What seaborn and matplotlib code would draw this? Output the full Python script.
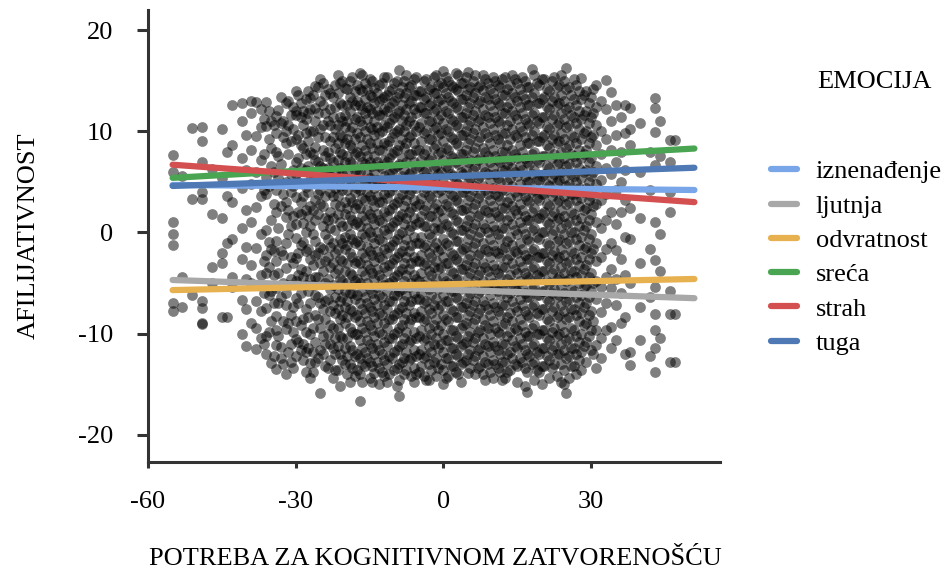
import matplotlib
matplotlib.use("Agg")
import matplotlib.pyplot as plt
import seaborn as sns
import pandas as pd
from matplotlib.lines import Line2D

# ---------------- data ----------------
emotions = ["iznenađenje", "ljutnja", "odvratnost", "sreća", "strah", "tuga"]
colors = ["#78a6e8", "#a8a8a8", "#e8b14f", "#4aa552", "#d45050", "#4e79b4"]
line_x = [-55, 51]
line_start = [4.7, -4.7, -5.7, 5.4, 6.7, 4.6]
line_end = [4.2, -6.5, -4.6, 8.3, 3.0, 6.4]

# scatter: x position of each column of points, and y values of that column
scatter_cols_x = [
    -55, -53, -51, -49, -47, -45, -44, -43, -41, -40, -39, -38, -37, -36, -35, -34,
    -33, -32, -31, -30, -29, -28, -27, -26, -25, -24, -23, -22, -21, -20, -19, -18,
    -17, -16, -15, -14, -13, -12, -11, -10, -9, -8, -7, -6, -5, -4, -3, -2, -1, 0,
    1, 2, 3, 4, 5, 6, 7, 8, 9, 10, 11, 12, 13, 14, 15, 16, 17, 18, 19, 20, 21, 22,
    23, 24, 25, 26, 27, 28, 29, 30, 31, 32, 33, 34, 35, 36, 37, 38, 40, 42, 43, 44,
    46, 47,
]
scatter_cols_y = [
    "7.7 6.0 1.0 -0.2 -1.2 -7.0 -7.8",
    "5.6 -4.4 -7.4",
    "10.3 3.3 -6.2",
    "10.4 9.0 7.0 4.0 3.3 -6.8 -7.5 -9.1 -9.0",
    "6.3 1.8 -3.4 -5.0",
    "10.2 5.4 1.4 -2.0 -3.0 -8.4",
    "8.0 3.6 -1.0 -8.4",
    "12.6 8.6 3.0 -0.6 -5.4 -4.4",
    "12.8 11.0 7.4 4.4 0.4 -2.6 -6.7 -10.0",
    "9.6 6.2 2.2 -1.4 -4.6 -7.6 -11.2",
    "13.0 11.8 8.2 4.8 1.0 -3.2 -5.0 -9.0",
    "12.9 9.5 6.0 2.5 -1.5 -6.8 -9.4 -11.5",
    "12.2 10.4 7.2 3.6 -0.2 -4.2 -7.8 -10.4",
    "12.9 10.5 5.5 3.8 0.2 -2.2 -4.0 -7.5 -10.2 -12.0",
    "11.0 8.4 6.6 1.2 -1.6 -5.8 -8.8 -12.9",
    "11.5 9.8 8.0 4.2 2.0 -0.8 -2.8 -5.5 -8.3 -9.6 -11.1 -13.5",
    "13.4 10.8 6.8 2.6 -1.8 -6.4 -11.3 -12.4",
    "12.8 10.0 8.8 5.0 3.0 1.5 -1.0 -3.5 -6.0 -7.2 -9.5 -14.0",
    "11.6 9.0 5.8 4.0 0.6 -2.4 -4.6 -8.2 -11.0 -12.8",
    "14.0 12.0 11.6 9.2 7.0 5.8 3.5 0.8 -0.5 -2.5 -4.8 -6.5 -8.8 -10.5 -12.2",
    "12.8 11.4 8.6 6.4 3.0 1.8 -1.2 -3.6 -6.0 -9.2 -11.6",
    "13.2 11.2 9.8 7.8 6.2 4.5 2.2 0.0 -1.8 -3.8 -5.2 -7.6 -9.8 -11.8 -13.8",
    "13.3 12.2 10.0 8.0 5.2 2.6 0.6 -2.6 -4.6 -7.0 -10.0 -12.9 -14.4",
    "14.5 12.3 11.0 8.5 7.2 5.0 3.2 1.2 -0.8 -2.2 -4.4 -6.2 -8.2 -10.8 -12.8",
    "15.2 13.0 10.2 6.6 4.2 2.8 -1.4 -3.0 -7.0 -9.4 -11.6 -15.9",
    "13.6 11.8 9.4 7.6 5.8 3.6 1.4 -0.2 -2.8 -5.0 -6.8 -8.6 -11.0 -13.2",
    "13.8 12.2 10.6 9.0 7.4 5.6 4.0 2.0 0.4 -1.4 -3.4 -5.6 -7.8 -9.2 -11.0 -12.6",
    "14.6 12.4 10.2 8.4 6.0 4.4 2.8 0.2 -2.0 -4.0 -6.4 -8.0 -10.4 -12.0 -13.6",
    "14.8 12.8 11.4 9.6 8.0 6.4 4.6 2.6 1.0 -0.6 -2.6 -4.6 -6.8 -8.6 -10.2 -12.0 -15.2",
    "14.3 11.6 10.4 8.8 7.0 5.0 3.0 1.8 -0.4 -1.6 -3.8 -5.8 -7.4 -9.0 -11.4 -13.0",
    "15.0 13.4 12.0 10.0 8.6 7.0 5.2 3.4 1.6 -0.2 -2.0 -4.0 -6.0 -7.6 -9.4 -11.2 -13.0 -14.8",
    "14.0 12.6 11.2 9.2 7.8 6.2 4.0 2.4 0.8 -1.0 -3.0 -4.8 -6.6 -8.4 -10.0 -12.2 -14.2",
    "15.8 14.2 12.6 11.0 9.4 7.6 6.0 4.2 2.4 0.6 -1.2 -3.0 -5.0 -7.0 -8.8 -10.6 -12.4 -14.0 -16.7",
    "14.8 13.2 11.8 10.0 8.2 6.8 5.0 3.2 1.2 -0.4 -2.4 -4.2 -6.4 -8.0 -9.8 -11.8 -13.2",
    "15.2 13.6 12.2 10.4 8.8 7.0 5.4 3.6 1.8 0.0 -1.8 -3.6 -5.6 -7.4 -9.2 -11.0 -12.8 -14.4",
    "14.3 12.8 11.0 9.6 7.6 6.0 4.4 2.6 0.8 -1.0 -2.8 -4.6 -6.6 -8.4 -10.2 -12.0 -13.9",
    "14.6 13.0 11.6 9.8 8.2 6.6 4.8 3.0 1.2 -0.6 -2.4 -4.2 -6.2 -8.0 -9.8 -11.6 -13.4 -15.0",
    "15.4 13.4 12.2 10.6 8.8 7.2 5.6 3.8 2.0 0.2 -1.6 -3.4 -5.2 -7.2 -9.0 -10.8 -12.6 -14.2",
    "14.0 12.4 10.8 9.0 7.4 5.8 4.0 2.2 0.4 -1.4 -3.2 -5.0 -6.8 -8.6 -10.4 -12.2 -14.0",
    "14.8 13.0 11.4 9.8 8.0 6.4 4.6 2.8 1.0 -0.8 -2.6 -4.4 -6.2 -8.2 -10.0 -11.8 -13.6",
    "16.1 13.8 12.0 10.2 8.6 6.8 5.0 3.4 1.6 -0.2 -2.0 -3.8 -5.8 -7.6 -9.4 -11.2 -13.0 -14.6 -16.2",
    "15.0 13.4 11.6 10.0 8.4 6.2 4.4 2.6 0.8 -1.2 -3.0 -4.8 -6.8 -8.6 -10.4 -12.4 -14.0",
    "14.4 12.8 11.0 9.4 7.8 5.8 3.8 2.0 0.2 -1.8 -3.6 -5.4 -7.2 -9.0 -10.8 -12.6",
    "15.2 13.6 12.2 10.6 8.8 7.0 5.2 3.2 1.4 -0.4 -2.4 -4.2 -6.0 -8.0 -9.8 -11.6 -13.4 -14.8",
    "14.0 12.4 10.4 8.2 6.6 4.8 2.8 1.0 -1.0 -2.8 -4.8 -6.6 -8.4 -10.2 -12.0 -13.8",
    "15.0 13.2 11.8 9.8 7.8 6.0 4.0 2.2 0.6 -1.4 -3.2 -5.2 -7.0 -8.8 -10.6 -12.4 -14.2",
    "14.2 12.6 11.0 9.2 7.2 5.4 3.6 1.6 -0.2 -2.0 -3.8 -5.6 -7.6 -9.4 -11.2 -13.0 -14.6",
    "15.4 13.8 12.0 10.2 8.4 6.4 4.4 2.4 0.4 -1.4 -3.4 -5.2 -7.2 -9.2 -11.0 -12.8",
    "14.6 13.0 11.2 9.6 7.8 5.8 4.0 2.0 0.2 -1.8 -3.6 -5.6 -7.6 -9.6 -11.4 -13.4",
    "16.0 14.4 12.6 10.8 9.0 7.2 5.4 3.4 1.4 -0.6 -2.4 -4.4 -6.2 -8.2 -10.0 -11.8 -13.6 -15.0",
    "15.0 13.4 11.8 10.0 8.2 6.4 4.4 2.6 0.6 -1.2 -3.0 -5.0 -6.8 -8.8 -10.6 -12.4 -14.2",
    "14.4 12.8 11.0 9.2 7.4 5.6 3.6 1.8 -0.2 -2.2 -4.0 -5.8 -7.8 -9.6 -11.4 -13.2",
    "15.6 14.0 12.2 10.4 8.6 6.8 4.8 3.0 1.0 -0.8 -2.8 -4.6 -6.6 -8.4 -10.4 -12.2 -14.0",
    "14.8 13.2 11.4 9.6 7.8 5.8 4.0 2.2 0.2 -1.6 -3.6 -5.4 -7.4 -9.2 -11.0 -12.8",
    "15.9 14.2 12.4 10.6 8.8 7.0 5.0 3.2 1.2 -0.6 -2.6 -4.4 -6.4 -8.2 -10.2 -12.0 -13.9",
    "15.0 13.4 11.6 9.8 8.0 6.2 4.2 2.4 0.4 -1.4 -3.4 -5.2 -7.2 -9.0 -10.8 -12.6",
    "14.4 12.8 11.0 9.0 7.2 5.4 3.4 1.6 -0.4 -2.2 -4.2 -6.0 -8.0 -9.8 -11.6 -13.4",
    "15.6 14.1 12.2 10.4 8.4 6.6 4.6 2.8 0.8 -1.0 -3.0 -4.8 -6.8 -8.6 -10.4 -12.2 -14.0",
    "14.8 13.2 11.4 9.4 7.6 5.8 3.8 2.0 0.0 -1.8 -3.8 -5.6 -7.6 -9.4 -11.2 -13.0",
    "15.4 13.8 12.0 10.2 8.2 6.4 4.4 2.6 0.6 -1.2 -3.2 -5.0 -7.0 -8.8 -10.8 -12.6 -14.4",
    "14.6 12.8 11.0 9.2 7.2 5.4 3.6 1.6 -0.2 -2.0 -4.0 -5.8 -7.8 -9.8 -11.6 -13.4",
    "15.2 13.6 11.8 9.8 8.0 6.2 4.2 2.4 0.4 -1.6 -3.4 -5.4 -7.2 -9.2 -11.0 -12.8 -14.6",
    "14.2 12.4 10.6 8.6 6.8 5.0 3.0 1.2 -0.8 -2.6 -4.6 -6.4 -8.4 -10.2 -12.0 -13.8",
    "15.6 13.8 12.0 10.2 8.2 6.4 4.6 2.6 0.8 -1.2 -3.0 -5.0 -6.8 -8.8 -10.6 -12.4",
    "14.8 13.0 11.2 9.4 7.4 5.6 3.6 1.8 -0.2 -2.0 -4.0 -5.8 -7.8 -9.6 -11.4 -13.2 -14.8",
    "15.4 13.6 11.8 10.0 8.0 6.2 4.2 2.2 0.4 -1.6 -3.4 -5.4 -7.2 -9.2 -11.0 -12.8",
    "14.4 12.6 10.8 8.8 7.0 5.0 3.2 1.2 -0.6 -2.6 -4.4 -6.4 -8.2 -10.2 -12.0 -13.8 -15.8",
    "16.2 13.4 11.6 9.6 7.8 5.8 4.0 2.0 0.2 -1.8 -3.6 -5.6 -7.4 -9.4 -11.2 -13.0",
    "14.8 12.8 11.0 9.0 7.2 5.2 3.4 1.4 -0.4 -2.4 -4.2 -6.2 -8.0 -10.0 -11.8 -13.6",
    "15.2 13.2 11.4 9.4 7.6 5.6 3.8 1.8 0.0 -2.0 -3.8 -5.8 -7.6 -9.6 -11.4 -13.2 -15.0",
    "14.2 12.4 10.4 8.6 6.6 4.8 2.8 1.0 -1.0 -2.8 -4.8 -6.6 -8.6 -10.4 -12.2",
    "15.0 13.0 11.2 9.2 7.4 5.4 3.6 1.6 -0.2 -2.2 -4.0 -6.0 -7.8 -9.8 -11.6 -13.4",
    "14.4 12.6 10.6 8.8 6.8 5.0 3.0 1.2 -0.8 -2.6 -4.6 -6.4 -8.4 -10.2 -12.0 -14.2",
    "15.6 13.6 11.8 9.8 8.0 6.0 4.2 2.2 0.4 -1.6 -3.4 -5.4 -7.2 -9.2 -11.0 -13.0 -14.8",
    "16.3 14.2 12.2 10.4 8.4 6.6 4.6 2.8 0.8 -1.0 -3.0 -4.8 -6.8 -8.6 -10.6 -12.4 -15.9",
    "13.6 11.6 9.6 7.8 5.8 3.8 2.0 0.0 -1.8 -3.8 -5.6 -7.6 -9.4 -11.4 -13.2",
    "14.6 12.6 10.8 8.8 7.0 5.0 3.2 1.2 -0.6 -2.6 -4.4 -6.4 -8.2 -10.2 -12.0 -14.0",
    "15.3 13.2 11.2 9.2 7.4 5.4 3.4 1.4 -0.4 -2.4 -4.2 -6.2 -8.0 -10.0 -11.8 -13.6",
    "14.0 12.0 10.0 8.2 6.2 4.4 2.4 0.6 -1.4 -3.2 -5.2 -7.0 -9.0 -10.8 -12.8",
    "13.4 11.4 9.4 7.4 5.6 3.6 1.8 -0.2 -2.0 -4.0 -5.8 -7.8 -9.6 -11.6",
    "14.6 12.4 10.6 8.6 6.6 4.8 2.8 1.0 -1.0 -2.8 -4.8 -6.6 -9.6 -11.1 -13.4",
    "13.0 10.0 7.8 5.2 3.2 0.4 -2.4 -5.4 -7.9 -10.4 -12.4",
    "15.1 12.2 9.2 6.4 3.8 1.2 -1.6 -4.4 -7.0 -9.6",
    "13.9 11.0 8.2 5.8 2.0 -1.0 -3.6 -5.5 -9.3 -11.4",
    "12.6 9.6 7.0 4.2 0.8 -1.7 -4.6 -7.2 -10.6",
    "11.4 8.0 5.0 2.0 -2.6 -6.0 -9.0",
    "12.6 9.8 6.2 3.2 -0.4 -4.2 -8.4 -12.0",
    "12.3 10.2 8.6 2.4 -0.6 -5.0 -11.8 -13.1",
    "10.8 6.0 1.4 -3.0 -7.4 -10.6",
    "8.0 4.2 -1.6 -6.4 -12.2",
    "13.3 12.3 9.9 6.7 1.0 -2.7 -5.4 -8.1 -9.6 -11.4 -13.8",
    "11.0 7.6 -0.2 -3.8 -10.4",
    "9.1 7.0 4.0 2.0 -5.8 -8.1 -12.8",
    "9.1 -8.1 -12.8",
]

# second interleaved set of point columns (half-unit positions)
scatter_cols2_x = [
    -36.5, -35.5, -34.5, -33.5, -32.5, -31.5, -30.5, -29.5, -28.5, -27.5, -26.5,
    -25.5, -24.5, -23.5, -22.5, -21.5, -20.5, -19.5, -18.5, -17.5, -16.5, -15.5,
    -14.5, -13.5, -12.5, -11.5, -10.5, -9.5, -8.5, -7.5, -6.5, -5.5, -4.5, -3.5,
    -2.5, -1.5, -0.5, 0.5, 1.5, 2.5, 3.5, 4.5, 5.5, 6.5, 7.5, 8.5, 9.5, 10.5, 11.5,
    12.5, 13.5, 14.5, 15.5, 16.5, 17.5, 18.5, 19.5, 20.5, 21.5, 22.5, 23.5, 24.5,
    25.5, 26.5, 27.5, 28.5, 29.5, 30.5,
]
scatter_cols2_y = [
    "11.2 7.8 4.2 -2.8 -6.0 -11.0",
    "12.0 9.2 4.6 -0.9 -3.4 -6.2 -9.8",
    "10.6 6.0 2.8 -1.8 -4.2 -7.0 -12.2",
    "12.1 7.6 5.4 0.4 -4.0 -7.0 -10.2",
    "11.0 9.4 3.8 -2.2 -5.0 -8.8 -13.0",
    "13.0 10.6 7.8 2.2 -0.2 -5.2 -9.0 -11.8",
    "12.4 10.2 6.2 4.6 1.6 -3.0 -7.4 -9.8 -13.4",
    "13.6 9.6 7.4 5.0 2.0 -2.0 -4.2 -7.0 -10.8",
    "12.0 10.6 8.4 3.6 0.9 -0.9 -4.4 -8.6 -11.0 -12.6",
    "14.0 11.8 9.0 6.6 4.0 1.6 -1.6 -5.8 -8.4 -11.4",
    "13.6 10.0 7.8 5.8 2.2 -0.2 -3.2 -5.2 -9.4 -11.8 -13.8",
    "14.4 11.8 9.4 7.0 3.8 1.8 -2.0 -4.4 -6.4 -8.6 -12.4",
    "14.8 12.6 10.6 8.2 6.4 2.6 0.6 -1.6 -3.8 -7.6 -10.2 -12.0",
    "14.2 11.0 8.0 6.4 4.8 1.2 -0.6 -2.4 -4.6 -6.6 -10.0 -13.4",
    "13.4 11.4 9.4 7.0 5.2 3.6 1.4 -1.0 -3.0 -5.2 -7.2 -9.4 -11.4 -14.4",
    "15.6 13.8 10.6 8.8 7.2 5.4 3.6 1.8 -1.6 -3.6 -5.6 -7.6 -9.4 -11.2 -13.6",
    "15.0 12.6 11.0 9.4 7.8 5.8 4.2 0.6 -1.0 -2.8 -4.8 -6.4 -8.2 -10.4 -12.6",
    "14.2 12.6 11.0 9.2 7.6 6.0 4.2 2.4 0.6 -1.2 -3.0 -5.0 -6.8 -8.4 -10.4 -12.2 -14.0",
    "15.4 13.0 10.4 8.4 6.8 4.8 3.0 1.2 -0.6 -2.4 -4.2 -6.0 -7.8 -9.8 -11.6 -13.4",
    "14.6 13.0 11.4 9.8 8.0 6.2 4.4 2.8 1.0 -0.8 -2.8 -4.6 -6.2 -8.2 -10.0 -12.0 -13.6",
    "15.6 14.0 12.2 10.6 8.6 7.0 5.2 3.4 1.6 -0.2 -2.0 -3.8 -5.8 -7.6 -9.4 -11.4 -13.0 -14.8",
    "14.2 12.4 11.2 9.2 7.6 5.8 4.0 2.2 0.4 -1.4 -3.2 -5.0 -7.0 -8.8 -10.6 -12.4",
    "15.0 13.4 11.8 10.2 8.4 6.6 4.8 3.2 1.4 -0.4 -2.2 -4.0 -6.0 -7.8 -9.6 -11.4 -13.2 -14.8",
    "13.8 12.0 10.4 8.8 7.0 5.2 3.6 1.8 0.0 -1.8 -3.6 -5.4 -7.2 -9.0 -11.0 -12.8",
    "14.8 13.2 11.6 10.0 8.2 6.4 4.6 3.0 1.0 -0.8 -2.6 -4.6 -6.4 -8.2 -10.0 -12.0 -13.8",
    "15.4 13.6 12.0 10.4 8.6 7.0 5.2 3.4 1.6 -0.2 -2.0 -3.8 -5.8 -7.6 -9.4 -11.2 -13.0 -14.8",
    "14.2 12.8 11.2 9.4 7.8 6.0 4.2 2.4 0.6 -1.2 -3.0 -4.8 -6.8 -8.6 -10.4 -12.4",
    "15.0 13.4 11.8 10.0 8.2 6.6 4.8 3.0 1.2 -0.6 -2.4 -4.2 -6.2 -8.0 -9.8 -11.6 -13.4 -15.2",
    "14.4 12.6 11.0 9.2 7.4 5.6 3.8 1.8 0.0 -1.8 -3.6 -5.6 -7.4 -9.2 -11.0 -12.8",
    "15.6 13.8 12.2 10.6 8.8 7.0 5.0 3.2 1.4 -0.6 -2.4 -4.2 -6.2 -8.0 -9.8 -11.8 -13.6",
    "14.6 13.0 11.4 9.6 7.8 6.0 4.2 2.4 0.6 -1.2 -3.0 -5.0 -6.8 -8.6 -10.6 -12.4 -14.2",
    "15.4 13.6 11.8 10.0 8.2 6.4 4.4 2.6 0.8 -1.0 -2.8 -4.6 -6.6 -8.4 -10.4 -12.2 -14.0",
    "14.0 12.4 10.8 9.0 7.2 5.4 3.4 1.6 -0.4 -2.2 -4.0 -6.0 -7.8 -9.6 -11.6 -13.2",
    "15.2 13.4 11.8 10.0 8.2 6.2 4.4 2.6 0.6 -1.2 -3.0 -4.8 -6.8 -8.6 -10.4 -12.2 -14.6",
    "14.4 12.8 11.0 9.2 7.4 5.4 3.4 1.6 -0.4 -2.4 -4.2 -6.2 -8.0 -10.0 -11.8 -13.6",
    "15.6 13.8 12.2 10.4 8.6 6.6 4.8 2.8 1.0 -1.0 -2.8 -4.6 -6.6 -8.6 -10.4 -12.4 -14.2",
    "14.8 13.2 11.6 9.8 8.0 6.0 4.2 2.2 0.4 -1.6 -3.4 -5.4 -7.2 -9.2 -11.0 -13.0",
    "15.4 13.8 12.0 10.2 8.4 6.6 4.6 2.8 0.8 -1.0 -3.0 -4.8 -6.8 -8.6 -10.6 -12.4 -14.4",
    "14.6 13.0 11.2 9.4 7.6 5.8 3.8 2.0 0.0 -2.0 -3.8 -5.8 -7.6 -9.6 -11.4 -13.2",
    "15.8 14.2 12.4 10.6 8.8 7.0 5.0 3.2 1.2 -0.8 -2.6 -4.6 -6.4 -8.4 -10.2 -12.0 -13.8",
    "14.8 13.2 11.4 9.6 7.8 6.0 4.0 2.2 0.2 -1.8 -3.6 -5.6 -7.4 -9.4 -11.2 -13.0 -14.8",
    "15.4 13.6 11.8 10.0 8.2 6.2 4.4 2.4 0.6 -1.4 -3.2 -5.2 -7.0 -9.0 -10.8 -12.6",
    "14.4 12.8 11.0 9.2 7.2 5.4 3.6 1.6 -0.2 -2.2 -4.0 -6.0 -7.8 -9.8 -11.6 -13.4",
    "15.6 13.8 12.0 10.2 8.4 6.6 4.6 2.8 0.8 -1.0 -3.0 -4.8 -6.8 -8.6 -10.4 -12.2 -14.0",
    "14.6 13.0 11.2 9.4 7.4 5.6 3.8 1.8 0.0 -2.0 -3.8 -5.8 -7.6 -9.6 -11.4 -13.2",
    "15.2 13.4 11.6 9.8 8.0 6.0 4.2 2.2 0.4 -1.6 -3.4 -5.4 -7.2 -9.2 -11.0 -12.8 -14.6",
    "14.2 12.6 10.8 8.8 7.0 5.2 3.2 1.4 -0.6 -2.4 -4.4 -6.2 -8.2 -10.0 -11.8 -13.8",
    "15.0 13.2 11.4 9.6 7.6 5.8 3.8 2.0 0.2 -1.8 -3.6 -5.6 -7.4 -9.4 -11.2 -13.0",
    "14.4 12.6 10.8 8.8 7.0 5.0 3.2 1.4 -0.6 -2.4 -4.4 -6.2 -8.2 -10.0 -12.0 -13.8",
    "15.4 13.6 11.8 9.8 8.0 6.2 4.2 2.4 0.4 -1.4 -3.4 -5.2 -7.2 -9.0 -11.0 -12.8 -14.4",
    "14.6 12.8 11.0 9.2 7.2 5.4 3.4 1.6 -0.4 -2.2 -4.2 -6.0 -8.0 -9.8 -11.8 -13.6",
    "15.2 13.4 11.6 9.6 7.8 6.0 4.0 2.2 0.2 -1.8 -3.6 -5.6 -7.4 -9.4 -11.2 -13.0",
    "14.2 12.4 10.4 8.6 6.6 4.8 2.8 1.0 -1.0 -2.8 -4.8 -6.6 -8.6 -10.4 -12.4",
    "15.0 13.2 11.2 9.4 7.4 5.6 3.6 1.6 -0.2 -2.2 -4.0 -6.0 -7.8 -9.8 -11.6 -13.4 -15.2",
    "14.4 12.6 10.6 8.8 6.8 5.0 3.0 1.2 -0.8 -2.6 -4.6 -6.4 -8.4 -10.2 -12.2",
    "15.6 13.8 11.8 10.0 8.0 6.2 4.2 2.4 0.4 -1.6 -3.4 -5.4 -7.2 -9.2 -11.0 -12.8 -14.6",
    "14.6 12.8 10.8 9.0 7.0 5.2 3.2 1.4 -0.6 -2.4 -4.4 -6.2 -8.2 -10.0 -12.0 -13.8",
    "15.2 13.4 11.4 9.6 7.6 5.8 3.8 2.0 0.0 -2.0 -3.8 -5.8 -7.6 -9.6 -11.4 -13.2",
    "14.0 12.2 10.2 8.4 6.4 4.6 2.6 0.8 -1.2 -3.0 -5.0 -6.8 -8.8 -10.6 -12.6 -14.4",
    "15.4 13.4 11.6 9.6 7.8 5.8 4.0 2.0 0.2 -1.8 -3.6 -5.6 -7.4 -9.4 -11.2 -13.0",
    "14.6 12.8 10.8 9.0 7.0 5.2 3.2 1.4 -0.6 -2.4 -4.4 -6.2 -8.2 -10.0 -12.0",
    "15.0 13.0 11.2 9.2 7.4 5.4 3.6 1.6 -0.2 -2.2 -4.0 -6.0 -7.8 -9.8 -11.6 -13.6 -15.0",
    "14.4 12.4 10.6 8.6 6.8 4.8 3.0 1.0 -0.8 -2.8 -4.6 -6.6 -8.4 -10.4 -12.2 -14.4",
    "15.2 13.2 11.4 9.4 7.6 5.6 3.8 1.8 0.0 -2.0 -3.8 -5.8 -7.6 -9.6 -11.4 -13.2",
    "14.0 12.0 10.2 8.2 6.4 4.4 2.6 0.6 -1.2 -3.2 -5.0 -7.0 -8.8 -10.8 -12.6",
    "13.6 11.6 9.8 7.8 6.0 4.0 2.2 0.2 -1.6 -3.6 -5.4 -7.4 -9.2 -11.2",
    "12.8 10.8 8.8 7.0 5.0 3.2 1.2 -0.6 -2.6 -4.4 -6.4 -8.2 -10.2",
    "14.2 11.8 9.6 6.0 2.6 -1.6 -5.0 -8.8 -12.0",
]

# ---------------- build tables ----------------
sx, sy = [], []
for xs_list, ys_list in ((scatter_cols_x, scatter_cols_y), (scatter_cols2_x, scatter_cols2_y)):
    for cx, col in zip(xs_list, ys_list):
        for v in col.split():
            sx.append(cx)
            sy.append(float(v))
scatter_df = pd.DataFrame({"x": sx, "y": sy})

rows = []
for emo, y0, y1 in zip(emotions, line_start, line_end):
    rows.append({"x": line_x[0], "y": y0, "EMOCIJA": emo})
    rows.append({"x": line_x[1], "y": y1, "EMOCIJA": emo})
line_df = pd.DataFrame(rows)

# ---------------- plot ----------------
sns.set_theme(style="white")
plt.rcParams["font.family"] = ["Liberation Serif", "DejaVu Serif"]
plt.rcParams["axes.unicode_minus"] = False
plt.rcParams["text.color"] = "black"
plt.rcParams["axes.labelcolor"] = "black"
FS = 19

fig = plt.figure(figsize=(9.45, 5.76), dpi=100)
ax = fig.add_axes([148 / 945, 1 - 462 / 576, (720 - 148) / 945, (462 - 10) / 576])

sns.scatterplot(data=scatter_df, x="x", y="y", color="black", alpha=0.5,
                s=60, linewidth=0, ax=ax, legend=False, zorder=2)
sns.lineplot(data=line_df, x="x", y="y", hue="EMOCIJA", hue_order=emotions,
             palette=dict(zip(emotions, colors)), lw=4.5, ax=ax,
             estimator=None, legend=False, zorder=3)

ax.set_xlim(-60, 56.2)
ax.set_ylim(-22.7, 22.0)
ax.set_xticks([-60, -30, 0, 30])
ax.set_yticks([-20, -10, 0, 10, 20])

for side in ["top", "right"]:
    ax.spines[side].set_visible(False)
for side in ["left", "bottom"]:
    ax.spines[side].set_color("#333333")
    ax.spines[side].set_linewidth(2.2)

ax.tick_params(axis="x", which="major", direction="out", length=4, width=2.2,
               color="#333333", labelcolor="black", labelsize=FS, pad=17, bottom=True)
ax.tick_params(axis="y", which="major", direction="out", length=8, width=2.2,
               color="#333333", labelcolor="black", labelsize=FS, pad=17, left=True)

ax.set_xlabel("POTREBA ZA KOGNITIVNOM ZATVORENOŠĆU", fontsize=FS)
ax.set_ylabel("AFILIJATIVNOST", fontsize=FS)
ax.xaxis.set_label_coords(0.502, -0.19)
ax.yaxis.set_label_coords(-0.19, 0.5)

handles = [Line2D([0], [0], color=c, lw=4.5) for c in colors]
fig.legend(handles, emotions, loc="upper left",
           bbox_to_anchor=(771 / 945, 1 - 160 / 576), frameon=False,
           fontsize=FS, handlelength=1.0, handletextpad=0.7,
           labelspacing=0.41, borderpad=0, borderaxespad=0)
fig.text(817 / 945, 1 - 82 / 576, "EMOCIJA", fontsize=FS, ha="left", va="center")

fig.savefig("out.png", dpi=100)
